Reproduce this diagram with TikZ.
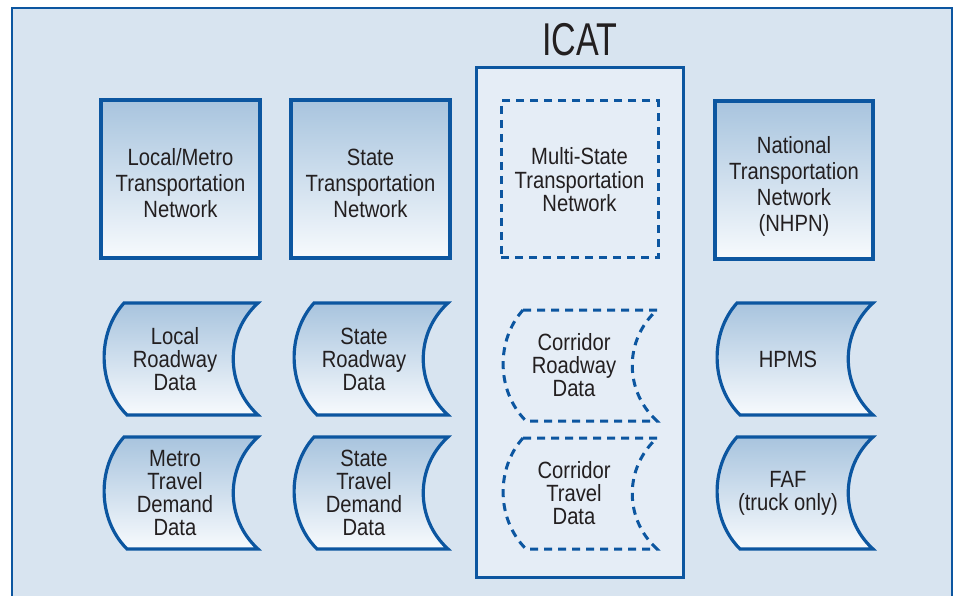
\documentclass[tikz,border=0pt]{standalone}
\usepackage{fontspec}
\setmainfont[FakeStretch=0.86]{Liberation Sans}
\newfontfamily\titlefont[FakeStretch=0.74]{Liberation Sans}
\definecolor{framefill}{RGB}{216,228,240}
\definecolor{icatfill}{RGB}{229,237,246}
\definecolor{edge}{RGB}{12,86,160}
\definecolor{shadetop}{RGB}{168,196,222}
\definecolor{shadebot}{RGB}{247,250,253}
\definecolor{ink}{RGB}{35,31,32}

% stored-data outline: left side bulges out, right side curves in
\newcommand\dataframe[5]{%
  \path[#1] ({#2+20},#4) -- (#3,#4)
    .. controls ({#3-33},{#4+30}) and ({#3-33},{#5-30}) .. (#3,#5)
    -- ({#2+23},#5)
    .. controls ({#2-7},{#5-30}) and ({#2-7},{#4+30}) .. cycle;}

\tikzset{
  solidedge/.style={draw=edge, line width=3.2pt, line join=miter},
  dashededge/.style={draw=edge, line width=3pt, dash pattern=on 8pt off 6pt},
  shaded/.style={top color=shadetop, bottom color=shadebot},
  netbox/.style={solidedge, shaded, rectangle, minimum width=159pt,
    minimum height=158pt, inner sep=0pt},
  boxlabel/.style={text=ink, align=center, inner sep=0pt,
    font=\fontsize{23.5pt}{26pt}\selectfont},
  datalabel/.style={text=ink, align=center, inner sep=0pt,
    font=\fontsize{23.5pt}{23pt}\selectfont},
}

\begin{document}
\begin{tikzpicture}[x=1pt, y=-1pt]
\useasboundingbox (0,0) rectangle (956,596);
\clip (0,0) rectangle (956,596);

% outer panel
\draw[draw=edge, line width=2.5pt, fill=framefill] (12,8) rectangle (952,650);

% ICAT container
\node[draw=edge, line width=3pt, fill=icatfill, rectangle, minimum width=207pt,
  minimum height=509pt, inner sep=0pt] (icat) at (579.5,322.5) {};
\node[text=ink, inner sep=0pt, font=\titlefont\fontsize{46pt}{46pt}\selectfont]
  (icattitle) at (580,40) {ICAT};

% network boxes
\node[netbox] (local) at (180.5,179) {};
\node[boxlabel] (localtext) at (180.5,183) {Local/Metro\\Transportation\\Network};
\node[netbox] (state) at (370.5,179) {};
\node[boxlabel] (statetext) at (370.5,183) {State\\Transportation\\Network};
\node[dashededge, rectangle, minimum width=157pt, minimum height=157pt,
  inner sep=0pt] (multi) at (579.5,179.5) {};
\node[boxlabel, font=\fontsize{23.5pt}{23.5pt}\selectfont]
  (multitext) at (579.5,180) {Multi-State\\Transportation\\Network};
\node[netbox, minimum width=158pt] (national) at (794,180) {};
\node[boxlabel] (nationaltext) at (794,186.5)
  {National\\Transportation\\Network\\(NHPN)};

% data sources, first row
\dataframe{solidedge, shaded}{104}{258}{303}{415}
\node[datalabel] (localroad) at (175,359) {Local\\Roadway\\Data};
\dataframe{solidedge, shaded}{294}{448}{303}{415}
\node[datalabel] (stateroad) at (364,359) {State\\Roadway\\Data};
\dataframe{dashededge}{503}{657}{310}{421}
\node[datalabel] (corrroad) at (574,365.5) {Corridor\\Roadway\\Data};
\dataframe{solidedge, shaded}{717}{873}{303}{415}
\node[datalabel] (hpms) at (788,359) {HPMS};

% data sources, second row
\dataframe{solidedge, shaded}{104}{258}{437}{549}
\node[datalabel] (metrotravel) at (175,493) {Metro\\Travel\\Demand\\Data};
\dataframe{solidedge, shaded}{294}{448}{437}{549}
\node[datalabel] (statetravel) at (364,493) {State\\Travel\\Demand\\Data};
\dataframe{dashededge}{503}{657}{438}{549}
\node[datalabel] (corrtravel) at (574,493.5) {Corridor\\Travel\\Data};
\dataframe{solidedge, shaded}{717}{873}{437}{549}
\node[datalabel] (faf) at (788,493) {FAF\\(truck only)};
\end{tikzpicture}
\end{document}
